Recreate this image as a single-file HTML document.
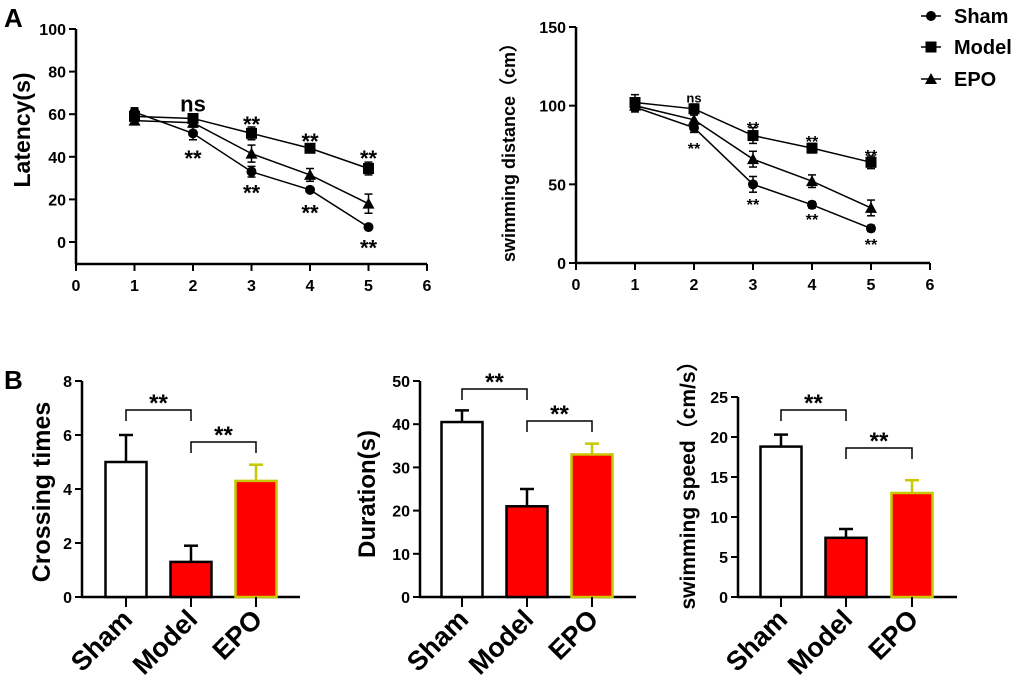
<!DOCTYPE html>
<html><head><meta charset="utf-8"><style>
body{margin:0;background:#fff;}
svg{display:block;font-family:"Liberation Sans",Arial,sans-serif;font-weight:bold;}
</style></head><body>
<svg id="fig" width="1020" height="700" viewBox="0 0 1020 700" xmlns="http://www.w3.org/2000/svg">
<text x="4" y="27" font-size="26">A</text>
<text x="4" y="389" font-size="26">B</text>
</svg>
<script>
const NS='http://www.w3.org/2000/svg';
const svg=document.getElementById('fig');
// ---- Line chart data ----
const days=[1,2,3,4,5];
const latSham=[61,51,33,24.5,7];
const latShamErr=[2,3,2.5,1,1];
const latModel=[59,58,51,44,34.5];
const latModelErr=[2,2,3,1.5,3];
const latEPO=[57,56,41.5,31.5,18];
const latEPOErr=[1,2,4,3,4.5];
const distSham=[99,86,50,37,22];
const distShamErr=[3,3,5,2,2];
const distModel=[102,98,81,73,64];
const distModelErr=[5,3,5,3,4];
const distEPO=[100,91,66,52,35];
const distEPOErr=[3,3,5,4,5];
const latTicks=[0,20,40,60,80,100];
const distTicks=[0,50,100,150];
const xTicks=[0,1,2,3,4,5,6];
const latAnnot=[['ns',2,65],['**',2,42],['**',3,58],['**',3,26],['**',4,50],['**',4,16.5],['**',5,42],['**',5,0]];
const distAnnot=[['ns',2,105],['**',2,75.6],['**',3,89],['**',3,40],['**',4,80],['**',4,30.5],['**',5,71],['**',5,14.6]];
// ---- Bar chart data ----
const groups=['Sham','Model','EPO'];
const crossing=[5,1.3,4.3];
const crossingErr=[1,0.6,0.6];
const duration=[40.5,21,33];
const durationErr=[2.7,4,2.5];
const speed=[18.8,7.4,13];
const speedErr=[1.5,1.1,1.6];
const crossTicks=[0,2,4,6,8];
const durTicks=[0,10,20,30,40,50];
const speedTicks=[0,5,10,15,20,25];

function el(tag,attrs,parent,txt){const e=document.createElementNS(NS,tag);for(const k in attrs)e.setAttribute(k,attrs[k]);if(txt!==undefined)e.textContent=txt;(parent||svg).appendChild(e);return e;}

function lineChart(o){
  const g=el('g',{});
  
  
  const X=v=>o.x0+(o.x1-o.x0)*v/6;
  const Y=v=>o.yb+(o.yt-o.yb)*(v-o.ymin0)/(o.ymax-o.ymin0);
  const yAxisBottom=Y(o.axisMin);
  el('line',{x1:o.x0,y1:o.yt,x2:o.x0,y2:yAxisBottom,stroke:'#000','stroke-width':2.5},g);
  el('line',{x1:o.x0-1,y1:yAxisBottom,x2:o.x1,y2:yAxisBottom,stroke:'#000','stroke-width':2.5},g);
  o.yTicks.forEach(t=>{el('line',{x1:o.x0-7,y1:Y(t),x2:o.x0,y2:Y(t),stroke:'#000','stroke-width':2},g);
    const tx=el('text',{x:o.x0-10,y:Y(t)+6,'font-size':16,'text-anchor':'end'},g,String(t));
    });
  xTicks.forEach(t=>{el('line',{x1:X(t),y1:yAxisBottom,x2:X(t),y2:yAxisBottom+7,stroke:'#000','stroke-width':2},g);
    const tx=el('text',{x:X(t),y:yAxisBottom+27,'font-size':16,'text-anchor':'middle'},g,String(t));
    });
  const tt=el('text',{x:0,y:0,'font-size':o.titleSize,'text-anchor':'middle',transform:`translate(${o.titleX},${o.titleY}) rotate(-90)`},g,o.title);
  
  o.series.forEach(s=>{
    const sg=el('g',{},g);
    
    
    el('polyline',{points:days.map((d,i)=>X(d)+','+Y(s.vals[i])).join(' '),fill:'none',stroke:'#000','stroke-width':1.5},sg);
    days.forEach((d,i)=>{
      const cx=X(d),cy=Y(s.vals[i]),e1=Y(s.vals[i]+s.err[i]),e2=Y(s.vals[i]-s.err[i]);
      el('line',{x1:cx,y1:e1,x2:cx,y2:e2,stroke:'#000','stroke-width':1.5},sg);
      el('line',{x1:cx-4,y1:e1,x2:cx+4,y2:e1,stroke:'#000','stroke-width':1.5},sg);
      el('line',{x1:cx-4,y1:e2,x2:cx+4,y2:e2,stroke:'#000','stroke-width':1.5},sg);
      let m;
      if(s.shape==='circle')m=el('circle',{cx:cx,cy:cy,r:5,fill:'#000'},sg);
      else if(s.shape==='square')m=el('rect',{x:cx-5.5,y:cy-5.5,width:11,height:11,fill:'#000'},sg);
      else m=el('polygon',{points:`${cx},${cy-6} ${cx-6},${cy+5} ${cx+6},${cy+5}`,fill:'#000'},sg);
      
      
    });
  });
  o.annot.forEach(a=>{
    const ns=a[0]==='ns';
    const fs=ns?o.nsSize:o.annSize;
    const t=el('text',{x:X(a[1]),y:Y(a[2])+(ns?fs*0.35:fs*0.62),'font-size':fs,'text-anchor':'middle'},g,a[0]);
    
  });
}

lineChart({name:'latency-chart',x0:76,x1:427,yt:29,yb:242,ymin0:0,ymax:100,axisMin:-10.3,yTicks:latTicks,
  title:'Latency(s)',titleX:30,titleY:130,titleSize:23,annSize:22,nsSize:22,
  series:[{key:'sham',vals:latSham,err:latShamErr,shape:'circle'},{key:'model',vals:latModel,err:latModelErr,shape:'square'},{key:'epo',vals:latEPO,err:latEPOErr,shape:'triangle'}],
  annot:latAnnot});
lineChart({name:'distance-chart',x0:576,x1:930,yt:27,yb:263,ymin0:0,ymax:150,axisMin:0,yTicks:distTicks,
  title:'swimming distance（cm）',titleX:515,titleY:148,titleSize:18,annSize:16,nsSize:13,
  series:[{key:'sham',vals:distSham,err:distShamErr,shape:'circle'},{key:'model',vals:distModel,err:distModelErr,shape:'square'},{key:'epo',vals:distEPO,err:distEPOErr,shape:'triangle'}],
  annot:distAnnot});

// legend
const legend=el('g',{});


[['Sham','circle',16],['Model','square',47],['EPO','triangle',79]].forEach(r=>{
  const eg=el('g',{},legend);
  
  
  const cx=931,cy=r[2];
  el('line',{x1:921,y1:cy,x2:941,y2:cy,stroke:'#000','stroke-width':1.5},eg);
  if(r[1]==='circle')el('circle',{cx:cx,cy:cy,r:5,fill:'#000'},eg);
  else if(r[1]==='square')el('rect',{x:cx-5.5,y:cy-5.5,width:11,height:11,fill:'#000'},eg);
  else el('polygon',{points:`${cx},${cy-6} ${cx-6},${cy+5} ${cx+6},${cy+5}`,fill:'#000'},eg);
  el('text',{x:954,y:cy+7,'font-size':20},eg,r[0]);
});

function barChart(o){
  const g=el('g',{});
  
  
  const Y=v=>o.y0+(o.ytop-o.y0)*v/o.ymax;
  const bw=41;
  el('line',{x1:o.x0,y1:Y(o.ymax),x2:o.x0,y2:o.y0+1,stroke:'#000','stroke-width':2.5},g);
  el('line',{x1:o.x0-1,y1:o.y0,x2:o.xend,y2:o.y0,stroke:'#000','stroke-width':2.5},g);
  o.ticks.forEach(t=>{el('line',{x1:o.x0-7,y1:Y(t),x2:o.x0,y2:Y(t),stroke:'#000','stroke-width':2},g);
    const tx=el('text',{x:o.x0-10,y:Y(t)+6,'font-size':16,'text-anchor':'end'},g,String(t));
    });
  const tt=el('text',{x:0,y:0,'font-size':o.titleSize,'text-anchor':'middle',transform:`translate(${o.titleX},${o.titleY}) rotate(-90)`},g,o.title);
  
  const fills=['#fff','#ff0000','#ff0000'],strokes=['#000','#000','#c8c800'];
  groups.forEach((gname,i)=>{
    const cx=o.cx[i];
    const top=Y(o.vals[i]),et=Y(o.vals[i]+o.err[i]);
    el('line',{x1:cx,y1:et,x2:cx,y2:top,stroke:strokes[i],'stroke-width':2.5},g);
    el('line',{x1:cx-7,y1:et,x2:cx+7,y2:et,stroke:strokes[i],'stroke-width':2.5},g);
    const b=el('rect',{x:cx-bw/2,y:top,width:bw,height:o.y0-top,fill:fills[i],stroke:strokes[i],'stroke-width':2.5},g);
    
    
    el('line',{x1:cx,y1:o.y0,x2:cx,y2:o.y0+10,stroke:'#000','stroke-width':2},g);
    const lab=el('text',{x:0,y:0,'font-size':27,'text-anchor':'end',transform:`translate(${cx+8},${o.y0+24}) rotate(-45)`},g,gname);
    
  });
  o.brackets.forEach(br=>{
    const a=o.cx[br[0]],b=o.cx[br[1]],y=br[2];
    const bg=el('g',{},g);
    
    
    el('polyline',{points:`${a},${y+11} ${a},${y} ${b},${y} ${b},${y+11}`,fill:'none',stroke:'#000','stroke-width':1.5},bg);
    el('text',{x:(a+b)/2,y:y+1,'font-size':24,'text-anchor':'middle'},bg,'**');
  });
}
barChart({name:'crossing-chart',x0:82,y0:597,ytop:381,ymax:8,xend:300,cx:[126,191,256],vals:crossing,err:crossingErr,ticks:crossTicks,
  title:'Crossing times',titleX:50,titleY:492,titleSize:25,brackets:[[0,1,410],[1,2,442]]});
barChart({name:'duration-chart',x0:420,y0:597,ytop:381,ymax:50,xend:636,cx:[462,527,592],vals:duration,err:durationErr,ticks:durTicks,
  title:'Duration(s)',titleX:375,titleY:494,titleSize:24,brackets:[[0,1,389],[1,2,421]]});
barChart({name:'speed-chart',x0:738,y0:597,ytop:397,ymax:25,xend:957,cx:[781,846,912],vals:speed,err:speedErr,ticks:speedTicks,
  title:'swimming speed（cm/s）',titleX:695,titleY:480,titleSize:21,brackets:[[0,1,410],[1,2,448]]});
</script>
</body></html>
